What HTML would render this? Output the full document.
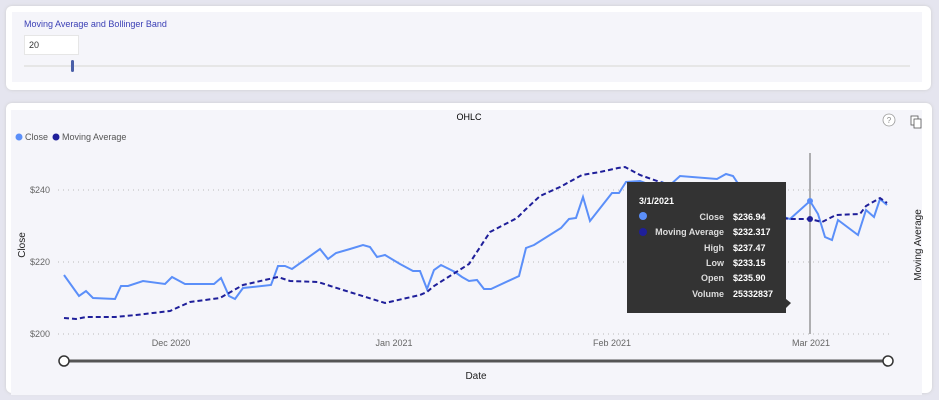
<!DOCTYPE html>
<html><head><style>
body{margin:0;width:939px;height:400px;background:#e5e5ef;font-family:"Liberation Sans",sans-serif;position:relative;overflow:hidden}
.card{position:absolute;background:#fff;border-radius:6px;box-shadow:0 0 3px #ccc}
.in{position:absolute;background:#f5f5fa}
</style></head><body>
<div class="card" style="left:6px;top:6px;width:925px;height:84px"></div>
<div class="in" style="left:12px;top:12px;width:910px;height:70px"></div>
<div style="position:absolute;left:24px;top:19px;font-size:9px;color:#3a3fb5">Moving Average and Bollinger Band</div>
<div style="position:absolute;left:24px;top:35px;width:53px;height:18px;background:#fff;border:1px solid #e6e6e6;font-size:9px;line-height:18px;text-indent:4px;color:#333">20</div>
<div style="position:absolute;left:24px;top:65px;width:886px;height:2px;background:#e6e6e6"></div>
<div style="position:absolute;left:71px;top:60px;width:3px;height:12px;background:#4a5fa8;border-radius:2px"></div>
<div class="card" style="left:6px;top:103px;width:926px;height:290px"></div>
<div class="in" style="left:11px;top:110px;width:911px;height:285px"></div>
<svg width="939" height="400" style="position:absolute;left:0;top:0" font-family="Liberation Sans,sans-serif">
<text x="469" y="120" font-size="9" text-anchor="middle" fill="#000">OHLC</text>
<circle cx="889" cy="120" r="6" fill="#fff" stroke="#999" stroke-width="0.8"/><text x="889" y="123" font-size="8" text-anchor="middle" fill="#888">?</text>
<rect x="911" y="116" width="7" height="9" fill="#fff" stroke="#555" stroke-width="0.8"/><rect x="914" y="119" width="7" height="9" fill="#fff" stroke="#555" stroke-width="0.8"/>
<circle cx="19" cy="137" r="3.5" fill="#5b8ff9"/><text x="25" y="140" font-size="9" fill="#555">Close</text>
<circle cx="56" cy="137" r="3.5" fill="#1f1f9a"/><text x="62" y="140" font-size="9" fill="#555">Moving Average</text>
<g stroke="#bbb" stroke-dasharray="1 4" stroke-width="1"><line x1="58" y1="190" x2="893" y2="190"/><line x1="58" y1="262" x2="893" y2="262"/><line x1="58" y1="334" x2="893" y2="334"/></g>
<g font-size="9" fill="#666"><text x="50" y="193" text-anchor="end">$240</text><text x="50" y="265" text-anchor="end">$220</text><text x="50" y="337" text-anchor="end">$200</text>
<text x="171" y="346" text-anchor="middle">Dec 2020</text><text x="394" y="346" text-anchor="middle">Jan 2021</text><text x="612" y="346" text-anchor="middle">Feb 2021</text><text x="811" y="346" text-anchor="middle">Mar 2021</text></g>
<text transform="translate(25,245) rotate(-90)" font-size="10" text-anchor="middle" fill="#222">Close</text>
<text transform="translate(921,245) rotate(-90)" font-size="10" text-anchor="middle" fill="#222">Moving Average</text>
<text x="476" y="379" font-size="10" text-anchor="middle" fill="#222">Date</text>
<line x1="810" y1="153" x2="810" y2="334" stroke="#666" stroke-width="1"/>
<polyline fill="none" stroke="#5b8ff9" stroke-width="2" points="64,275 79,296 86,291 93,298 115,299 121,286 128,286 143,281 165,284 172,277 185,284 214,284 221,278 229,296 235,299 243,288 271,285 278,266 285,266 292,269 320,249 328,259 336,253 350,249 363,245 370,247 377,257 385,255 400,264 413,271 420,271 427,289 434,270 441,265 455,272 462,277 469,281 477,280 484,289 491,289 519,276 526,248 534,245 561,228 569,219 576,218 583,197 590,221 612,193 619,193 626,182 640,181 656,187 662,182 669,186 680,176 717,179 726,174 733,176 737,182 760,210 790,219 810,201 818,214 825,237 832,240 838,220 858,235 866,210 874,217 880,199 887,205"/>
<polyline fill="none" stroke="#1f1f9a" stroke-width="2" stroke-dasharray="5 3" points="64,318 76,319 86,317 115,317 136,315 170,311 190,302 220,298 243,285 256,282 278,277 290,281 318,282 343,290 385,303 420,295 427,292 434,286 469,264 490,232 517,218 525,210 540,196 560,187 582,175 600,172 618,168 625,167 640,175 660,182 680,190 720,205 760,215 790,219 810,219 822,222 836,215 860,214 866,206 880,198 887,203"/>
<circle cx="810" cy="201" r="3" fill="#5b8ff9"/><circle cx="810" cy="219" r="3" fill="#1f1f9a"/>
<line x1="64" y1="361" x2="888" y2="361" stroke="#555" stroke-width="3"/>
<circle cx="64" cy="361" r="5" fill="#fff" stroke="#333" stroke-width="1.5"/><circle cx="888" cy="361" r="5" fill="#fff" stroke="#333" stroke-width="1.5"/>
<rect x="627" y="182" width="159" height="131" fill="#333"/><polygon points="786,299 791,303 786,308" fill="#333"/>
<g font-size="9" fill="#ddd" font-weight="bold"><text x="639" y="204" fill="#fff">3/1/2021</text>
<circle cx="643" cy="216" r="4" fill="#5b8ff9"/><circle cx="643" cy="232" r="4" fill="#1f1f9a"/>
<g text-anchor="end"><text x="724" y="220">Close</text><text x="724" y="235">Moving Average</text><text x="724" y="251">High</text><text x="724" y="266">Low</text><text x="724" y="281">Open</text><text x="724" y="297">Volume</text></g>
<g fill="#fff"><text x="733" y="220">$236.94</text><text x="733" y="235">$232.317</text><text x="733" y="251">$237.47</text><text x="733" y="266">$233.15</text><text x="733" y="281">$235.90</text><text x="733" y="297">25332837</text></g></g>
</svg>
</body></html>
